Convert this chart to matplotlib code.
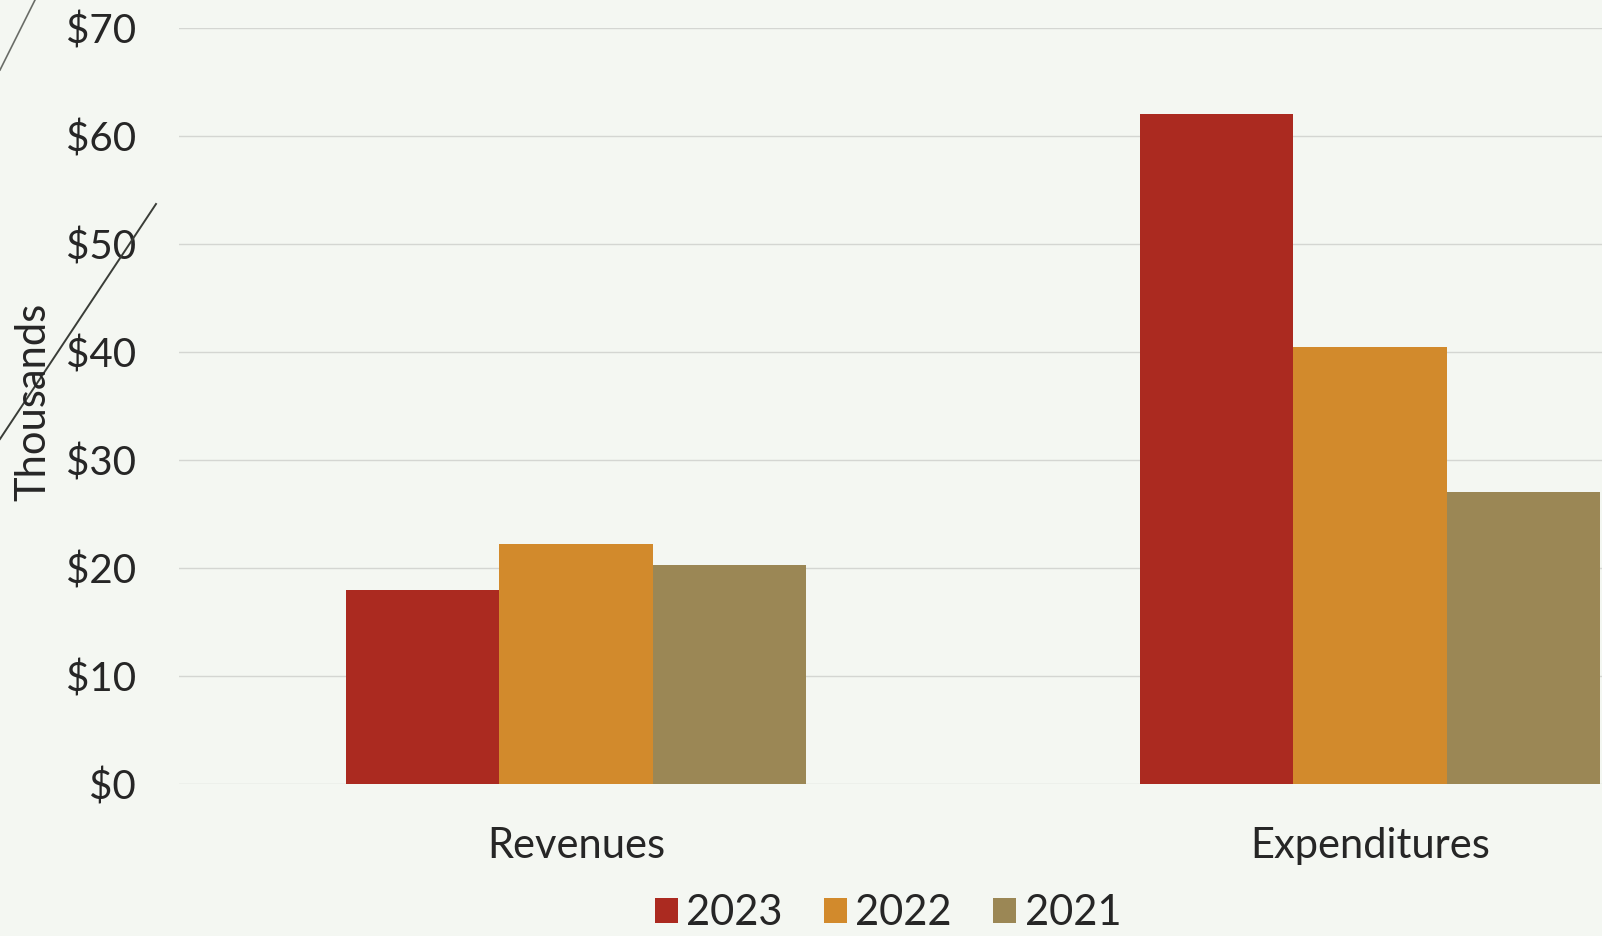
import numpy as np
import matplotlib
matplotlib.use("Agg")
from matplotlib import pyplot as plt
from matplotlib.lines import Line2D
from matplotlib.ticker import FuncFormatter

# Dados (milhares de dólares)
categorias = ["Revenues", "Expenditures"]
anos = ["2023", "2022", "2021"]
valores_2023 = [18.0, 62.0]
valores_2022 = [22.2, 40.5]
valores_2021 = [20.3, 27.0]
cores = ["#ab2a20", "#d28a2c", "#9b8755"]

plt.rcParams['font.family'] = ['Lato', 'DejaVu Sans']

fig = plt.figure(figsize=(16.02, 9.36), dpi=100)
fig.patch.set_facecolor("#f4f7f2")

# eixo largo: o último grupo fica cortado na borda direita
ax = fig.add_axes([179 / 1602, 1 - 784 / 936, 1588 / 1602, (784 - 28) / 936])
ax.set_facecolor("none")

x = np.arange(len(categorias))
largura = 0.193
series = [valores_2023, valores_2022, valores_2021]
for i, (ano, vals) in enumerate(zip(anos, series)):
    ax.bar(x + (i - 1) * largura, vals, largura, color=cores[i], label=ano, zorder=3)

ax.set_xlim(-0.5, 1.5)
ax.set_ylim(0, 70)
ax.set_yticks(np.arange(0, 71, 10))
ax.yaxis.set_major_formatter(FuncFormatter(lambda v, p: f"${int(v)}"))
ax.set_xticks(x)
ax.set_xticklabels(categorias)
ax.grid(axis="y", color="#d4d6d2", linewidth=1.0, zorder=0)
for s in ax.spines.values():
    s.set_visible(False)
ax.tick_params(axis="y", length=0, pad=31, labelsize=29, labelcolor="#262626")
ax.tick_params(axis="x", length=0, pad=31, labelsize=30, labelcolor="#262626")

fig.text(33 / 1602, 1 - 402 / 936, "Thousands", rotation=90, fontsize=30,
         color="#262626", ha="center", va="center")

fig.legend(loc="center", bbox_to_anchor=(888 / 1602, 1 - 913 / 936), ncol=3,
           frameon=False, fontsize=30, handlelength=0.55, handleheight=0.55,
           handletextpad=0.2, columnspacing=1.0, labelcolor="#262626")

# traços decorativos do slide
fig.add_artist(Line2D([0, 156 / 1602], [1 - 439 / 936, 1 - 204 / 936],
                      color="#3a3d38", linewidth=1.4))
fig.add_artist(Line2D([0, 35 / 1602], [1 - 70 / 936, 1.0],
                      color="#6a6d68", linewidth=1.2))

plt.savefig("out.png", dpi=100, facecolor=fig.get_facecolor())
